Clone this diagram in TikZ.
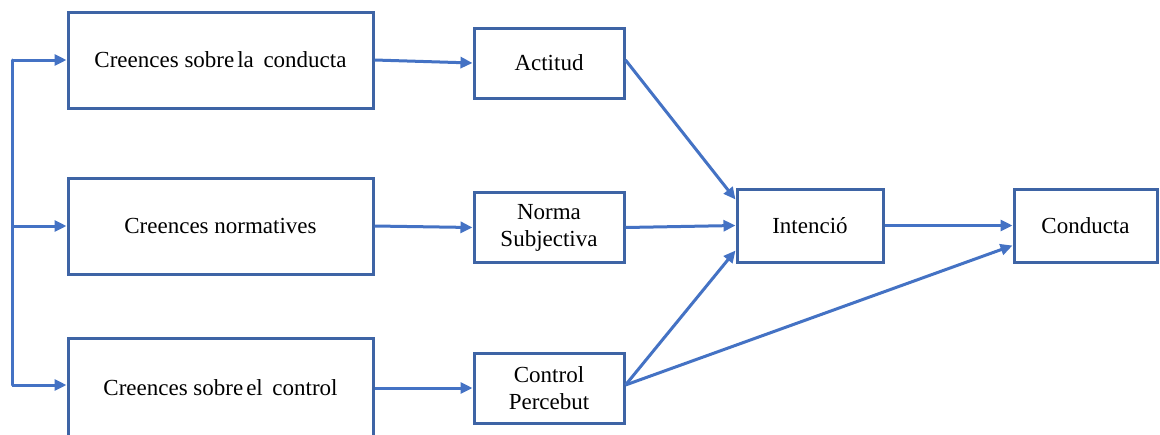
\documentclass[tikz,border=0pt]{standalone}
\usepackage{fontspec}
\setmainfont{Liberation Serif}
\usepackage{xcolor}
\usetikzlibrary{arrows.meta}

\definecolor{linkblue}{RGB}{68,114,196}
\definecolor{boxblue}{RGB}{62,100,165}

\tikzset{
  belief/.style={draw=boxblue, line width=1.5pt, minimum width=152.5pt, minimum height=48pt, inner sep=0pt, font=\fontsize{11.5}{13.5}\selectfont},
  factor/.style={draw=boxblue, line width=1.5pt, minimum width=75pt, minimum height=35pt, inner sep=0pt, align=center, font=\fontsize{11.5}{13.5}\selectfont},
  link/.style={draw=linkblue, line width=1.5pt, -{Triangle[length=6pt,width=5.5pt]}},
  trunk/.style={draw=linkblue, line width=1.5pt, line cap=round}
}

\begin{document}
\begin{tikzpicture}[x=0.5pt, y=-0.5pt]
        \clip (0,0) rectangle (1160,434);
        \fill[white] (0,0) rectangle (1160,434);

        % beliefs
        \node[belief] (cconducta) at (220.5,60) {Creences sobre\hspace{-0.12em} la\, conducta};
        \node[belief] (cnormes) at (220.5,226) {Creences normatives};
        \node[belief, minimum height=52pt] (ccontrol) at (220.5,390) {\raisebox{2pt}{Creences sobre\hspace{-0.12em} el\, control}};

        % factors
        \node[factor] (actitud) at (549,63) {Actitud};
        \node[factor] (norma) at (549,227.5) {Norma\\Subjectiva};
        \node[factor] (control) at (549,388) {Control\\Percebut};
        \node[factor, minimum width=73pt, minimum height=36.5pt] (intencio) at (810,225.5) {Intenció};
        \node[factor, minimum width=71.5pt, minimum height=36.5pt] (conducta) at (1085.5,225.5) {Conducta};

        % left trunk
        \coordinate (ttop) at (12,60);
        \coordinate (tmid) at (12,226);
        \coordinate (tbot) at (12,385);
        \draw[trunk] (ttop) -- (tbot);
        \draw[link] (ttop) -- (cconducta.west);
        \draw[link] (tmid) -- (cnormes.west);
        \draw[link] (tbot) -- (tbot -| ccontrol.west);

        \draw[link] (cconducta.east) -- (actitud.west);
        \draw[link] (cnormes.east) -- (norma.west);
        \draw[link] (ccontrol.east |- control.west) -- (control.west);

        \draw[link] ([yshift=1.5pt]actitud.east) -- ([yshift=13pt]intencio.west);
        \draw[link] (norma.east) -- (intencio.west);
        \draw[link] ([yshift=1.5pt]control.east) -- ([yshift=-12.5pt]intencio.west);
        \draw[link] ([yshift=1.5pt]control.east) -- ([yshift=-10pt]conducta.west);
        \draw[link] (intencio.east) -- (conducta.west);
      \end{tikzpicture}
\end{document}
